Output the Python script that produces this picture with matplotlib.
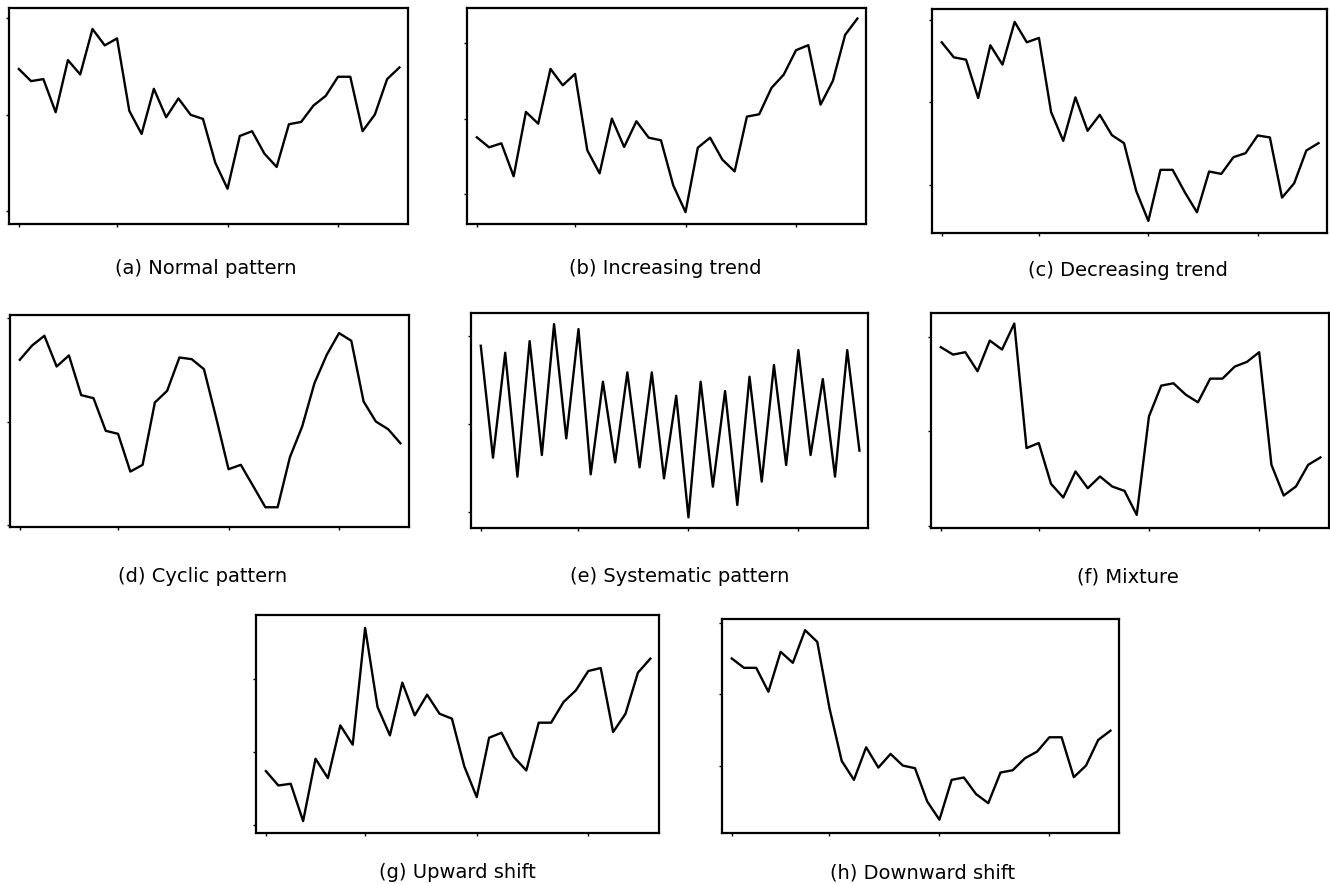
import numpy as np
import matplotlib.pyplot as plt

plt.rcParams['font.family'] = ['DejaVu Sans']

# sample index shared by every pattern
t = np.arange(1, 33)

normal = [34.7, 33.45, 33.66, 30.24, 35.62, 34.14, 38.83, 37.14, 37.86, 30.38,
          28.0, 32.66, 29.72, 31.66, 29.97, 29.55, 25.03, 22.34, 27.79, 28.28,
          25.97, 24.59, 29.0, 29.24, 30.93, 31.93, 33.9, 33.9, 28.28, 30.0,
          33.66, 34.86]
increasing = [37.52, 36.19, 36.72, 32.33, 40.89, 39.33, 46.61, 44.43, 45.94, 35.79,
              32.73, 40.0, 36.23, 39.65, 37.47, 37.12, 31.13, 27.58, 36.14, 37.47,
              34.55, 32.99, 40.27, 40.58, 44.08, 45.85, 49.09, 49.76, 41.86, 45.01,
              51.13, 53.3]
decreasing = [37.27, 35.45, 35.17, 30.53, 36.91, 34.57, 39.74, 37.27, 37.8, 28.83,
              25.35, 30.61, 26.57, 28.5, 26.04, 25.07, 19.29, 15.66, 21.84, 21.84,
              19.13, 16.71, 21.64, 21.35, 23.37, 23.86, 26.0, 25.76, 18.48, 20.22,
              24.18, 25.07]
cyclic = [35.97, 37.35, 38.29, 35.32, 36.39, 32.55, 32.26, 29.1, 28.81, 25.16,
          25.81, 31.84, 32.97, 36.19, 36.03, 35.06, 30.32, 25.39, 25.81, 23.77,
          21.71, 21.71, 26.55, 29.52, 33.71, 36.45, 38.55, 37.81, 31.94, 30.0,
          29.26, 27.9]
systematic = [38.88, 26.18, 38.09, 24.03, 39.41, 26.48, 41.34, 28.37, 40.78, 24.29,
              34.8, 25.65, 35.86, 25.09, 35.86, 23.84, 33.21, 19.41, 34.8, 22.89,
              33.74, 20.81, 35.37, 23.46, 36.69, 25.35, 38.39, 26.48, 35.1, 24.03,
              38.39, 26.98]
mixture = [38.89, 38.11, 38.36, 36.35, 39.59, 38.64, 41.39, 28.24, 28.77, 24.46,
           23.02, 25.77, 24.0, 25.24, 24.18, 23.72, 21.18, 31.59, 34.83, 35.08,
           33.88, 33.07, 35.57, 35.57, 36.84, 37.34, 38.36, 26.47, 23.23, 24.18,
           26.47, 27.25]
upward = [27.39, 25.42, 25.65, 20.53, 29.08, 26.43, 33.66, 31.01, 47.03, 36.18,
          32.29, 39.52, 35.03, 37.87, 35.26, 34.58, 28.03, 23.82, 31.97, 32.65,
          29.31, 27.48, 34.03, 34.03, 36.86, 38.47, 41.12, 41.53, 32.75, 35.26,
          40.89, 42.81]
downward = [35.0, 33.7, 33.7, 30.37, 35.93, 34.4, 38.94, 37.31, 28.06, 20.74,
            18.1, 22.64, 19.81, 21.71, 20.09, 19.72, 15.09, 12.55, 18.1, 18.43,
            16.11, 14.86, 19.12, 19.44, 21.11, 22.04, 24.03, 24.03, 18.47, 20.09,
            23.66, 24.95]

captions = ['(a) Normal pattern', '(b) Increasing trend', '(c) Decreasing trend',
            '(d) Cyclic pattern', '(e) Systematic pattern', '(f) Mixture',
            '(g) Upward shift', '(h) Downward shift']
series = [normal, increasing, decreasing, cyclic, systematic, mixture, upward, downward]
ylims = [(18.7, 41.0), (26.0, 54.7), (14.2, 41.3), (19.8, 40.3),
         (18.2, 42.6), (19.8, 42.5), (18.9, 48.8), (10.7, 40.5)]
xticks = [1, 9, 18, 27]

W, H = 1330, 884
# panel boxes in pixels: left, top, right, bottom
boxes = [(9, 8, 408, 224), (467, 8, 866, 224), (932, 9, 1327, 233),
         (10, 315, 409, 527), (471, 313, 868, 528), (931, 313, 1329, 528),
         (256, 615, 659, 833), (722, 619, 1119, 833)]
# caption centres in pixels
cap_pos = [(206, 268), (665, 268), (1128, 271), (203, 577), (680, 577),
           (1128, 577), (457, 873), (923, 873)]

fig = plt.figure(figsize=(W / 100, H / 100), dpi=100)

for vals, box, lim, cap, cp in zip(series, boxes, ylims, captions, cap_pos):
    l, tp, r, b = box
    ax = fig.add_axes([l / W, 1 - b / H, (r - l) / W, (b - tp) / H])
    ax.plot(t, vals, color='black', linewidth=1.7)
    ax.set_xlim(0.2, 32.7)
    ax.set_ylim(*lim)
    ax.set_xticks(xticks)
    ax.set_yticks([v for v in (10, 20, 30, 40, 50) if lim[0] < v < lim[1]])
    ax.set_xticklabels([])
    ax.set_yticklabels([])
    ax.tick_params(direction='out', length=2, width=1)
    for s in ax.spines.values():
        s.set_linewidth(1.6)
    fig.text(cp[0] / W, 1 - cp[1] / H, cap, ha='center', va='center', fontsize=14)

plt.savefig('out.png', dpi=100)
